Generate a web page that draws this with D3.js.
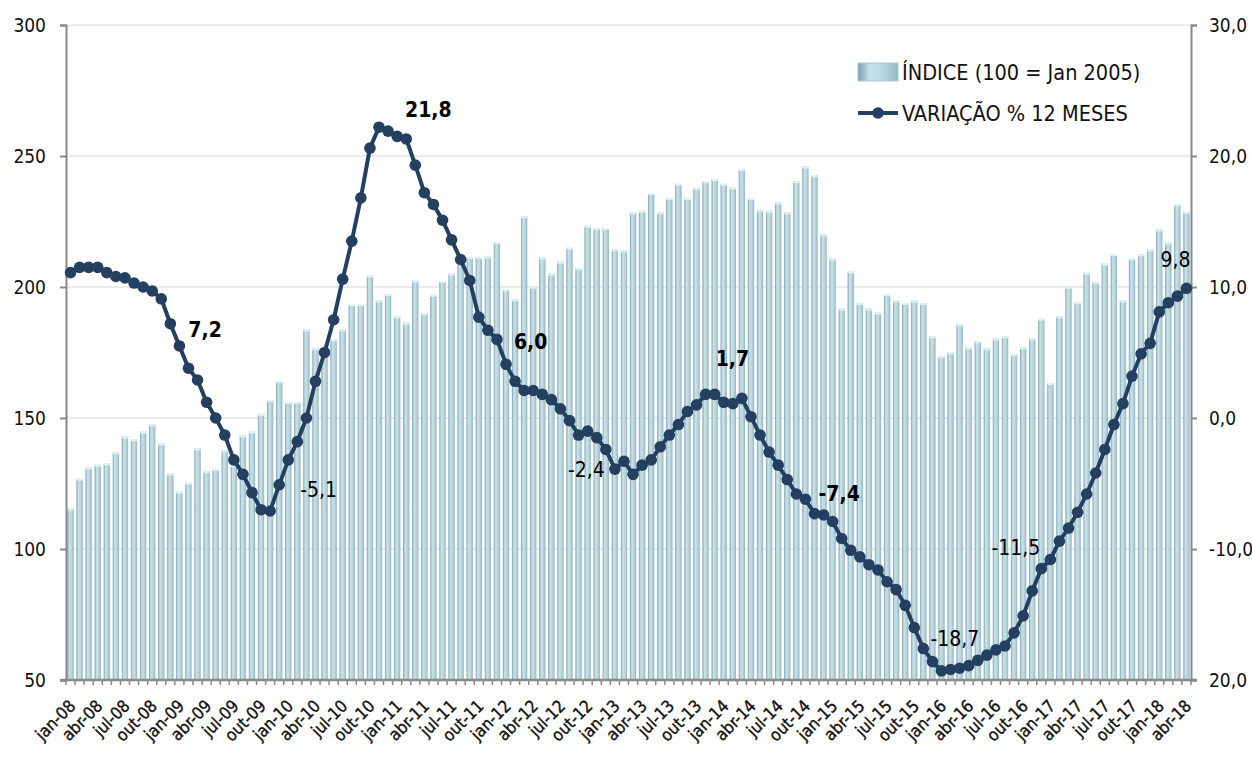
<!DOCTYPE html>
<html>
<head>
<meta charset="utf-8">
<script src="https://cdn.jsdelivr.net/npm/d3@7"></script>
<style>
  body { margin: 0; background: #fff; }
  svg { display: block; font-family: "DejaVu Sans Condensed", "Liberation Sans Narrow", sans-serif; }
</style>
</head>
<body>
<svg id="chart"></svg>
<script>
// meses jan-08 .. abr-18
const monthNames = ["jan", "fev", "mar", "abr", "mai", "jun", "jul", "ago", "set", "out", "nov", "dez"];
const years = ["08", "09", "10", "11", "12", "13", "14", "15", "16", "17", "18"];
const months = [];
years.forEach(y => monthNames.forEach(m => months.push(m + "-" + y)));
months.splice(124);

// ÍNDICE (100 = Jan 2005)
const indice = [
  115.5, 126.8, 131.1, 132.2, 132.6, 136.9, 142.9, 141.9, 144.8, 147.6, 140.3, 128.8,
  121.9, 125.3, 138.4, 129.7, 130.6, 137.7, 132.0, 143.4, 144.8, 151.6, 156.9, 164.1,
  156.1, 156.1, 183.8, 176.6, 176.0, 180.1, 183.8, 193.5, 193.5, 204.4, 194.9, 197.3,
  188.8, 186.4, 202.5, 190.0, 197.0, 202.3, 205.1, 209.7, 211.4, 211.4, 211.7, 217.2,
  199.2, 195.3, 227.0, 200.1, 211.2, 205.1, 209.7, 215.0, 207.2, 223.4, 222.5, 222.5,
  214.4, 214.0, 228.5, 229.1, 235.9, 228.5, 234.0, 239.4, 234.0, 237.9, 240.4, 241.2,
  239.4, 238.0, 245.1, 234.0, 229.5, 229.1, 232.3, 228.5, 240.4, 246.0, 242.7, 220.1,
  210.9, 191.8, 205.9, 193.9, 191.8, 190.3, 197.3, 194.9, 193.9, 194.8, 193.9, 181.2,
  173.7, 175.1, 185.7, 177.0, 179.4, 176.6, 180.4, 181.2, 174.4, 177.0, 180.4, 187.9,
  163.4, 188.8, 200.1, 194.2, 205.5, 202.0, 209.0, 212.6, 194.9, 211.0, 212.5, 214.4,
  222.0, 217.1, 231.6, 228.7
];

// VARIAÇÃO % 12 MESES
const variacao = [
  11.1, 11.5, 11.5, 11.5, 11.1, 10.8, 10.7, 10.3, 10.0, 9.7, 9.1, 7.2,
  5.5, 3.8, 2.9, 1.2, 0.0, -1.3, -3.2, -4.3, -5.7, -7.0, -7.1, -5.1,
  -3.2, -1.8, 0.0, 2.8, 5.0, 7.5, 10.6, 13.5, 16.8, 20.6, 22.2, 21.9,
  21.5, 21.3, 19.3, 17.2, 16.3, 15.1, 13.6, 12.1, 10.5, 7.7, 6.7, 6.0,
  4.1, 2.8, 2.1, 2.1, 1.8, 1.4, 0.7, -0.2, -1.3, -1.0, -1.5, -2.4,
  -3.9, -3.3, -4.3, -3.6, -3.2, -2.2, -1.3, -0.5, 0.5, 1.0, 1.8, 1.8,
  1.2, 1.1, 1.5, 0.1, -1.3, -2.6, -3.6, -4.7, -5.8, -6.2, -7.3, -7.4,
  -7.9, -9.2, -10.1, -10.6, -11.2, -11.6, -12.5, -13.1, -14.3, -16.0, -17.6, -18.6,
  -19.3, -19.2, -19.1, -18.9, -18.5, -18.1, -17.7, -17.4, -16.4, -15.1, -13.2, -11.5,
  -10.8, -9.4, -8.4, -7.2, -5.8, -4.2, -2.4, -0.5, 1.1, 3.2, 4.9, 5.7,
  8.1, 8.8, 9.3, 9.9
];

// rótulos de dados: índice do mês e texto
const labelMonths = [11, 23, 34, 47, 59, 71, 82, 95, 107, 123];
const labelTexts = ["7,2", "-5,1", "21,8", "6,0", "-2,4", "1,7", "-7,4", "-18,7", "-11,5", "9,8"];

const leftTicks = [50, 100, 150, 200, 250, 300];
const leftTickLabels = ["50", "100", "150", "200", "250", "300"];
const rightTicks = [-20, -10, 0, 10, 20, 30];
const rightTickLabels = ["20,0", "-10,0", "0,0", "10,0", "20,0", "30,0"];

const w = 1252;
const h = 758;
const padL = 66, padR = 1191, padT = 25, padB = 680;
const axisColor = "#898989";
const lineColor = "#243f60";
const fontNarrow = "'DejaVu Sans Condensed', 'Liberation Sans Narrow', sans-serif";

const svg = d3.select("#chart").attr("width", w).attr("height", h);

const defs = svg.append("defs");
const grad = defs.append("linearGradient").attr("id", "barGrad")
  .attr("x1", "0%").attr("x2", "100%").attr("y1", "0%").attr("y2", "0%");
grad.append("stop").attr("offset", "0%").attr("stop-color", "#7c9fac");
grad.append("stop").attr("offset", "30%").attr("stop-color", "#c9e2ea");
grad.append("stop").attr("offset", "65%").attr("stop-color", "#b9d6df");
grad.append("stop").attr("offset", "100%").attr("stop-color", "#92b6c2");

const xScale = d3.scaleBand()
  .domain(months)
  .range([padL, padR])
  .paddingInner(0.3)
  .paddingOuter(0.15);

const yLeft = d3.scaleLinear().domain([50, 300]).range([padB, padT]);
const yRight = d3.scaleLinear().domain([-20, 30]).range([padB, padT]);

// grade
svg.append("g").selectAll("line")
  .data(leftTicks.slice(1))
  .enter().append("line")
  .attr("x1", padL).attr("x2", padR)
  .attr("y1", d => yLeft(d)).attr("y2", d => yLeft(d))
  .attr("stroke", "#e4e4e4").attr("stroke-width", 1.5);

// barras
const bars = svg.append("g").selectAll("g")
  .data(indice)
  .enter().append("g");
bars.append("rect")
  .attr("x", (d, i) => xScale(months[i]))
  .attr("y", d => yLeft(d))
  .attr("width", xScale.bandwidth())
  .attr("height", d => padB - yLeft(d))
  .attr("fill", "url(#barGrad)");
bars.append("rect")
  .attr("x", (d, i) => xScale(months[i]))
  .attr("y", d => yLeft(d))
  .attr("width", xScale.bandwidth())
  .attr("height", 2)
  .attr("fill", "#dcf3f9");

// eixo esquerdo
const yAxisL = d3.axisLeft(yLeft).tickValues(leftTicks).tickSize(6).tickPadding(14)
  .tickFormat((d, i) => leftTickLabels[i]);
const gL = svg.append("g").attr("transform", `translate(${padL},0)`).call(yAxisL);
// eixo direito
const yAxisR = d3.axisRight(yRight).tickValues(rightTicks).tickSize(6).tickPadding(12)
  .tickFormat((d, i) => rightTickLabels[i]);
const gR = svg.append("g").attr("transform", `translate(${padR},0)`).call(yAxisR);

[gL, gR].forEach(g => {
  g.select(".domain").attr("stroke", axisColor).attr("stroke-width", 2);
  g.selectAll(".tick line").attr("stroke", axisColor).attr("stroke-width", 2);
  g.selectAll("text").attr("font-size", 19).attr("fill", "#111")
    .attr("font-family", fontNarrow);
});

// eixo x
const xAxis = d3.axisBottom(xScale).tickSize(0).tickPadding(0)
  .tickFormat(d => /^(jan|abr|jul|out)/.test(d) ? d : "");
const gX = svg.append("g").attr("transform", `translate(0,${padB})`).call(xAxis);
gX.select(".domain").remove();
gX.selectAll("text")
  .attr("font-size", 17).attr("fill", "#111")
  .attr("stroke", "#111").attr("stroke-width", 0.35)
  .attr("font-family", fontNarrow)
  .attr("text-anchor", "end")
  .attr("dy", 0)
  .attr("transform", "translate(6,27) rotate(-45)");

// marcas mensais
const step = xScale.step();
const edges = months.map(m => xScale(m) - xScale.paddingInner() * step / 2);
edges.push(padR);
svg.append("g").selectAll("line")
  .data(edges)
  .enter().append("line")
  .attr("x1", d => d).attr("x2", d => d)
  .attr("y1", padB).attr("y2", padB + 5)
  .attr("stroke", axisColor).attr("stroke-width", 1.5);
svg.append("line")
  .attr("x1", padL - 6).attr("x2", padR + 6)
  .attr("y1", padB).attr("y2", padB)
  .attr("stroke", axisColor).attr("stroke-width", 2.5);

// linha
const cx = i => xScale(months[i]) + xScale.bandwidth() / 2;
const line = d3.line().x((d, i) => cx(i)).y(d => yRight(d));
svg.append("path")
  .datum(variacao)
  .attr("d", line)
  .attr("fill", "none")
  .attr("stroke", lineColor)
  .attr("stroke-width", 4);
svg.append("g").selectAll("circle")
  .data(variacao)
  .enter().append("circle")
  .attr("cx", (d, i) => cx(i))
  .attr("cy", d => yRight(d))
  .attr("r", 5.8)
  .attr("fill", lineColor);

// rótulos
const labelOffsets = [
  { dx: 18, dy: 13, anchor: "start", bold: true },
  { dx: 21, dy: 12, anchor: "start", bold: false },
  { dx: 26, dy: -10, anchor: "start", bold: true },
  { dx: 17, dy: 10, anchor: "start", bold: true },
  { dx: -1, dy: 28, anchor: "end", bold: false },
  { dx: 1, dy: -28, anchor: "start", bold: true },
  { dx: 4, dy: -13, anchor: "start", bold: true },
  { dx: -2, dy: -16, anchor: "start", bold: false },
  { dx: -1, dy: -14, anchor: "end", bold: false },
  { dx: 4, dy: -21, anchor: "end", bold: false }
];
svg.append("g").selectAll("text")
  .data(labelMonths)
  .enter().append("text")
  .attr("x", (d, k) => cx(d) + labelOffsets[k].dx)
  .attr("y", (d, k) => yRight(variacao[d]) + labelOffsets[k].dy)
  .attr("text-anchor", (d, k) => labelOffsets[k].anchor)
  .attr("font-weight", (d, k) => labelOffsets[k].bold ? "bold" : "normal")
  .attr("font-size", 21)
  .attr("fill", "#000")
  .text((d, k) => labelTexts[k]);

// legenda
const legend = svg.append("g").attr("transform", "translate(858,0)");
legend.append("rect")
  .attr("x", 0).attr("y", 63).attr("width", 40).attr("height", 18)
  .attr("fill", "url(#barGrad)").attr("stroke", "#a8c8d2");
legend.append("text")
  .attr("x", 44).attr("y", 80)
  .attr("font-size", 21.5).attr("fill", "#111")
  .text("ÍNDICE (100 = Jan 2005)");
legend.append("line")
  .attr("x1", 0).attr("x2", 40).attr("y1", 113).attr("y2", 113)
  .attr("stroke", lineColor).attr("stroke-width", 4);
legend.append("circle")
  .attr("cx", 20).attr("cy", 113).attr("r", 5.8).attr("fill", lineColor);
legend.append("text")
  .attr("x", 44).attr("y", 121)
  .attr("font-size", 21.5).attr("fill", "#111")
  .text("VARIAÇÃO % 12 MESES");
</script>
</body>
</html>
